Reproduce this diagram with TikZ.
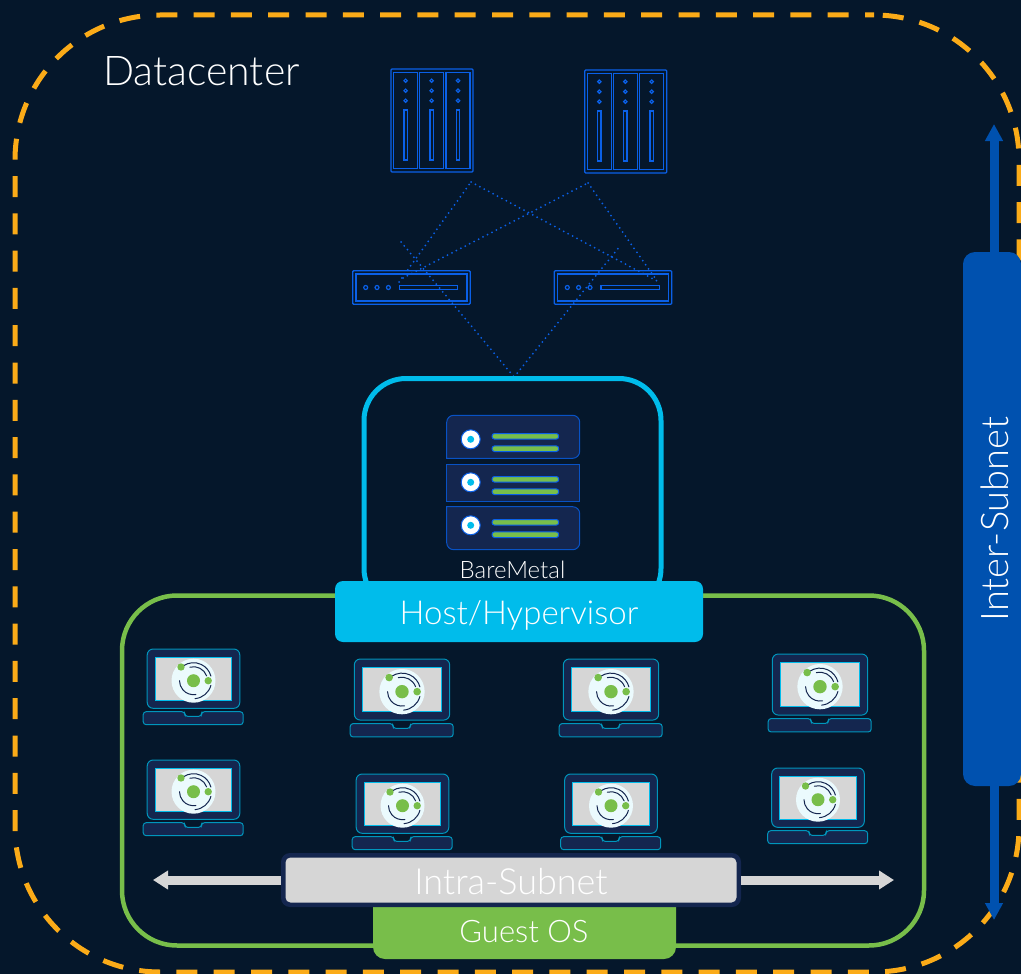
\documentclass[tikz,border=0pt]{standalone}
\usepackage{fontspec}
\setmainfont{Lato}[UprightFont=* Light]
\usepackage{xcolor}
\usetikzlibrary{positioning, arrows.meta}
\definecolor{pagebg}{HTML}{05172B}
\definecolor{dcorange}{HTML}{FBAB18}
\definecolor{iconblue}{HTML}{0A60E8}
\definecolor{hostcyan}{HTML}{00BCEB}
\definecolor{guestgreen}{HTML}{78BE4A}
\definecolor{internavy}{HTML}{0051AF}
\definecolor{panelnavy}{HTML}{14264F}
\definecolor{intragrey}{HTML}{D6D6D6}
\tikzset{
	dcbox/.style={draw=dcorange, line width=5pt, rounded corners=145pt, dash pattern=on 21pt off 16.3pt, dash phase=12pt, minimum width=1004pt, minimum height=957pt},
	hostline/.style={draw=hostcyan, line width=5pt, rounded corners=42pt, minimum width=297pt, minimum height=232pt},
	guestline/.style={draw=guestgreen, line width=4.5pt, rounded corners=55pt, minimum width=802pt, minimum height=350pt},
	hostbox/.style={fill=hostcyan, rounded corners=8pt, minimum width=368pt, minimum height=61pt},
	guestbox/.style={fill=guestgreen, rounded corners=12pt, minimum width=303pt, minimum height=64pt},
	intraouter/.style={fill=panelnavy, rounded corners=9pt, minimum width=460pt, minimum height=54pt},
	intrabox/.style={fill=intragrey, rounded corners=5pt, minimum width=451pt, minimum height=45pt},
	interbox/.style={fill=internavy, rounded corners=12pt, minimum width=58pt, minimum height=534pt},
	intraarrow/.style={draw=intragrey, line width=9pt, -{Triangle[length=15pt,width=18pt]}},
	interarrow/.style={draw=internavy, line width=9pt, -{Triangle[length=17pt,width=17pt]}},
	wire/.style={draw=iconblue, line width=2pt, line cap=round, dash pattern=on 0pt off 5pt},
	iconline/.style={draw=iconblue, line width=1.3pt},
	label/.style={text=white, inner sep=0pt},
	storebox/.style={iconline, rounded corners=1pt, minimum width=82pt, minimum height=103pt},
	switchbox/.style={iconline, rounded corners=1pt, minimum width=117.5pt, minimum height=33.5pt},
	icondot/.style={iconline, line width=1.2pt},
	lappanel/.style={fill=panelnavy, draw=hostcyan!80!black, line width=1pt},
	orbit/.style={draw=panelnavy, line width=1pt, line cap=round},
	rowbox/.style={fill=panelnavy, draw=iconblue!85!black, line width=1pt},
	rowbar/.style={fill=guestgreen, draw=iconblue, line width=1pt, rounded corners=2.5pt},
	pics/storagebay/.style={code={
		\draw[iconline] (-12,-48) rectangle (12,48);
		\draw[icondot] (0,-39.8) circle (1.7);
		\draw[icondot] (0,-29.8) circle (1.7);
		\draw[icondot] (0,-19.8) circle (1.7);
		\draw[iconline] (-1.7,-10.5) rectangle (1.7,39.5);
	}},
	pics/storage/.style={code={
		\node[storebox] (-box) at (0,0) {};
		\pic at (-26.4,0) {storagebay};
		\pic at (-0.4,0) {storagebay};
		\pic at (26,0) {storagebay};
	}},
	pics/switch/.style={code={
		\node[switchbox] (-box) at (0,0) {};
		\draw[iconline] (-55.5,-13.5) rectangle (55.5,13.5);
		\draw[icondot] (-45.7,0) circle (2);
		\draw[icondot] (-34.4,0) circle (2);
		\draw[icondot] (-23,0) circle (2);
		\draw[iconline] (-12.1,-1.8) rectangle (46.3,1.8);
	}},
	pics/rowmark/.style={code={
		\draw[fill=white, draw=iconblue, line width=1pt] (0,0) circle (9.5);
		\fill[hostcyan] (0,0) circle (3.5);
		\draw[rowbar] (21.3,-5.8) rectangle (88,-0.2);
		\draw[rowbar] (21.3,6.6) rectangle (88,12.2);
	}},
	pics/laptop/.style={code={
		\draw[lappanel, rounded corners=6pt] (-46.3,0) rectangle (46.3,59.3);
		\draw[fill=intragrey, draw=hostcyan, line width=1pt] (-38.3,8.3) rectangle (38,51);
		\draw[lappanel, rounded corners=3pt] (-50.3,62.7) -- (-8.7,62.7) -- (-8.7,67.4) -- (8,67.4) -- (8,62.7) -- (49.7,62.7) -- (49.7,75.7) -- (-50.3,75.7) -- cycle;
		\fill[white!92!hostcyan] (0,31.7) circle (22);
		\draw[orbit] ([shift={(-125:18)}]0,31.7) arc[start angle=-125, end angle=-15, radius=18];
		\draw[orbit] ([shift={(-105:14)}]0,31.7) arc[start angle=-105, end angle=-20, radius=14];
		\draw[orbit] ([shift={(15:18)}]0,31.7) arc[start angle=15, end angle=85, radius=18];
		\draw[orbit] ([shift={(80:14)}]0,31.7) arc[start angle=80, end angle=180, radius=14];
		\fill[guestgreen] (0,31.7) circle (6.5);
		\fill[guestgreen] (-12.5,18) circle (3.7);
		\fill[guestgreen] (14.7,31.7) circle (3.7);
	}},
}

\begin{document}
\begin{tikzpicture}[x=1pt, y=-1pt]
	\fill[pagebg] (0,0) rectangle (1021,974);
	\useasboundingbox (0,0) rectangle (1021,974);

	\node[dcbox] (dc) at (517,493.5) {};
	\node[label, font=\fontsize{41}{41}\selectfont, anchor=west] (dclabel) at (103,71) {Datacenter};

	\pic (srv1) at (432,120.5) {storage};
	\pic (srv2) at (625.7,121.5) {storage};
	\pic (sw1) at (411.4,287.5) {switch};
	\pic (sw2) at (613,287.5) {switch};

	\coordinate (apex1) at (471,182);
	\coordinate (apex2) at (588,183);
	\coordinate (apex3) at (514,377);
	\coordinate (tail1) at (399,282);
	\coordinate (tail2) at (659,282);
	\coordinate (tail3) at (403,278);
	\coordinate (tail4) at (655,278);
	\coordinate (tail5) at (401,242);
	\coordinate (tail6) at (620,246);

	\draw[wire] (tail1) -- (apex1);
	\draw[wire] (apex1) -- (tail2);
	\draw[wire] (tail3) -- (apex2);
	\draw[wire] (apex2) -- (tail4);
	\draw[wire] (tail5) -- (apex3);
	\draw[wire] (apex3) -- (tail6);

	\node[hostline] (bare) at (512.5,494.5) {};
	\draw[rowbox, rounded corners=7pt] (446.7,458.3) -- (446.7,415.3) -- (579.7,415.3) -- (579.7,458.3) [sharp corners] -- cycle;
	\draw[rowbox] (446.7,464) rectangle (579.7,501);
	\draw[rowbox, rounded corners=7pt] (446.7,506.7) -- (446.7,549.7) -- (579.7,549.7) -- (579.7,506.7) [sharp corners] -- cycle;
	\pic (mark1) at (470.7,439.3) {rowmark};
	\pic (mark2) at (470.7,482.3) {rowmark};
	\pic (mark3) at (470.7,525.3) {rowmark};
	\node[label, font=\fontsize{24}{24}\selectfont] (barelabel) at (512.5,570) {BareMetal};

	\node[guestline] (guest) at (523,770.5) {};
	\node[hostbox] (host) at (519,611.5) {};
	\node[label, font=\fontsize{33}{33}\selectfont] (hostlabel) at (519,615) {Host/Hypervisor};

	\pic (lap1) at (193.5,649) {laptop};
	\pic[scale=1.03] (lap2) at (402,659) {laptop};
	\pic[scale=1.03] (lap3) at (611,659) {laptop};
	\pic[scale=1.03] (lap4) at (820,654) {laptop};
	\pic (lap5) at (193.5,760) {laptop};
	\pic[scale=1.0] (lap6) at (402.5,774) {laptop};
	\pic[scale=1.0] (lap7) at (611,774) {laptop};
	\pic[scale=1.0] (lap8) at (818,768) {laptop};

	\node[guestbox] (guestos) at (524.5,927) {};
	\node[intraouter] (intraback) at (511,880) {};
	\node[intrabox] (intra) at (511,880) {};
	\node[label, font=\fontsize{36}{36}\selectfont] (intralabel) at (511,882) {Intra-Subnet};
	\node[label, font=\fontsize{31}{31}\selectfont] (guestlabel) at (524,932) {Guest OS};

	\coordinate (intraleft) at (153,880);
	\coordinate (intraright) at (894,880);
	\draw[intraarrow] (intraback.west) -- (intraleft);
	\draw[intraarrow] (intraback.east) -- (intraright);

	\node[interbox] (inter) at (992,519) {};
	\coordinate (intertop) at (994,124);
	\coordinate (interbot) at (994,920);
	\draw[interarrow] (intertop |- inter.north) -- (intertop);
	\draw[interarrow] (interbot |- inter.south) -- (interbot);
	\node[label, font=\fontsize{38}{38}\selectfont, rotate=90] (interlabel) at (995,519) {Inter-Subnet};
\end{tikzpicture}
\end{document}
